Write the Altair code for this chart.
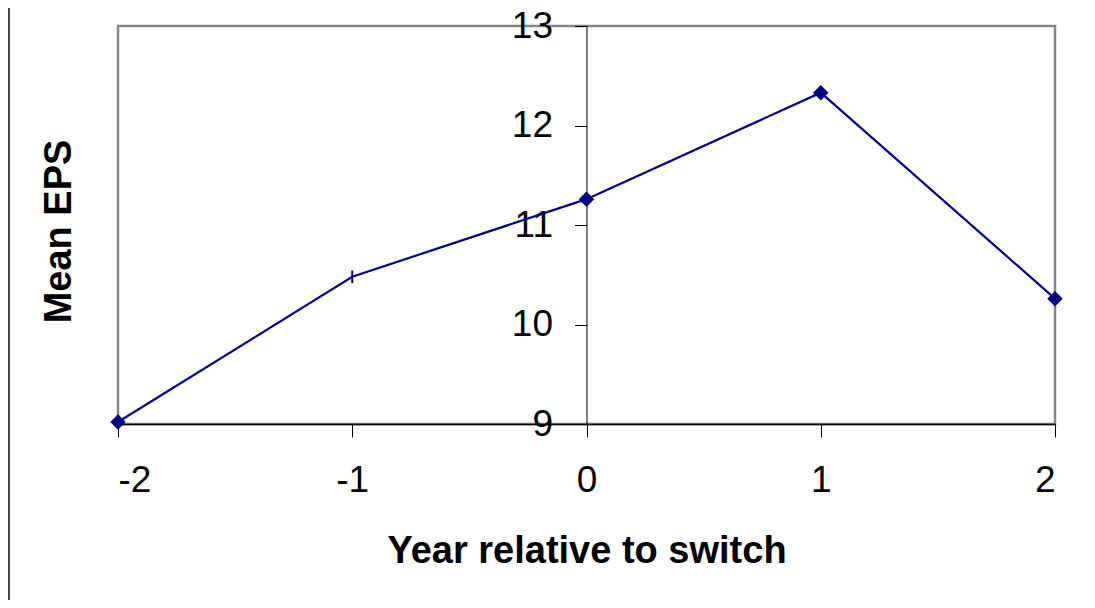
import altair as alt
import pandas as pd

years = [-2, -1, 0, 1, 2]
mean_eps = [9.02, 10.48, 11.26, 12.33, 10.26]
y_ticks = [9, 10, 11, 12, 13]
x_ticks = [-2, -1, 0, 1, 2]

df = pd.DataFrame({"year": years, "eps": mean_eps})

W, H = 937, 398
FONT = "Liberation Sans"
NAVY = "#000080"

x_enc = alt.X(
    "year:Q",
    scale=alt.Scale(domain=[-2, 2], nice=False, zero=False),
    axis=alt.Axis(
        values=x_ticks, labelExpr="'' + datum.value", grid=False,
        domainColor="black", domainWidth=1.5,
        tickColor="black", tickSize=13, tickWidth=1,
        labelFont=FONT, labelFontSize=37, labelColor="black", labelPadding=25,
        title="Year relative to switch", titleFont=FONT, titleFontSize=38,
        titleFontWeight="bold", titleColor="black",
        titleBaseline="alphabetic", titleY=138,
    ),
)
y_enc = alt.Y(
    "eps:Q",
    scale=alt.Scale(domain=[9, 13], nice=False, zero=False),
    axis=alt.Axis(
        values=y_ticks, labelExpr="'' + datum.value", grid=False, offset=-W / 2,
        domainColor="black", domainWidth=1,
        tickColor="black", tickSize=12, tickWidth=1,
        labelFont=FONT, labelFontSize=37, labelColor="black", labelPadding=22,
        title="Mean EPS", titleFont=FONT, titleFontSize=38,
        titleFontWeight="bold", titleColor="black",
        titleAngle=270, titleAlign="center", titleBaseline="middle",
        titleX=-527, titleY=205,
    ),
)

base = alt.Chart(df)

line = base.mark_line(color=NAVY, strokeWidth=2.2).encode(x=x_enc, y=y_enc)

diamonds = base.transform_filter("datum.year != -1").mark_point(
    shape="diamond", filled=True, color=NAVY, size=240, opacity=1
).encode(x="year:Q", y="eps:Q")

tick_mark = base.transform_filter("datum.year == -1").mark_point(
    shape="M0,-1L0,1", filled=False, stroke=NAVY, strokeWidth=2, size=160, opacity=1
).encode(x="year:Q", y="eps:Q")

border = alt.Chart(pd.DataFrame({"a": [0]})).mark_rule(
    color="#444444", strokeWidth=2
).encode(x=alt.value(-109), y=alt.value(-18), y2=alt.value(590))

chart = alt.layer(line, diamonds, tick_mark, border).properties(
    width=W, height=H,
    background="white",
    autosize=alt.AutoSizeParams(type="none"),
    padding={"left": 110, "top": 18, "right": 32, "bottom": 176},
).configure_view(stroke="#858585", strokeWidth=2.5)

chart.save("out.html", embed_options={"renderer": "svg", "actions": False})
